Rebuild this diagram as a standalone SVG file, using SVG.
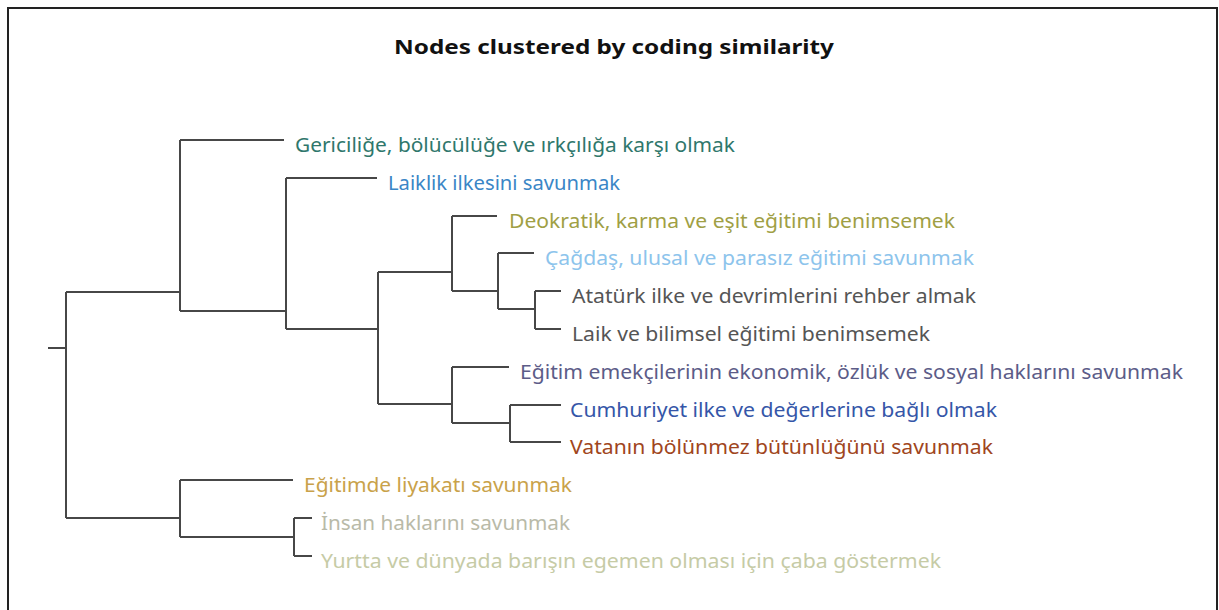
<svg xmlns="http://www.w3.org/2000/svg" width="1219" height="610" viewBox="0 0 1219 610">
<style>
.lbl{font-family:"Noto Sans","Open Sans","Liberation Sans",sans-serif;font-size:19px;}
.ttl{font-family:"Noto Sans","Open Sans","Liberation Sans",sans-serif;font-size:20px;font-weight:bold;fill:#111;}
.br{fill:none;stroke:#474747;stroke-width:2;}
</style>
<rect x="0" y="0" width="1219" height="610" fill="#fff"/>
<rect x="8" y="8" width="1209" height="620" fill="#fff" stroke="#222" stroke-width="2"/>
<text class="ttl" x="614" y="54" text-anchor="middle" textLength="440" lengthAdjust="spacingAndGlyphs">Nodes clustered by coding similarity</text>
<g id="connectors" class="br">
<path d="M48,348H66M66,292V518M66,292H180M66,518H180"/>
<path d="M180,140V311M180,140H284M180,311H286"/>
<path d="M286,178V329M286,178H377M286,329H378"/>
<path d="M378,272V404M378,272H452M378,404H452"/>
<path d="M452,216V291M452,216H497M452,291H498"/>
<path d="M498,253V309M498,253H534M498,309H535"/>
<path d="M535,291V329M535,291H561M535,329H561"/>
<path d="M452,367V423M452,367H509M452,423H510"/>
<path d="M510,405V442M510,405H561M510,442H561"/>
<path d="M180,480V537M180,480H293M180,537H294"/>
<path d="M294,518V556M294,518H312M294,556H312"/>
</g>
<g id="n1"><text class="lbl" x="295" y="152" fill="#2f776c" textLength="440" lengthAdjust="spacingAndGlyphs">Gericiliğe, bölücülüğe ve ırkçılığa karşı olmak</text></g>
<g id="n2"><text class="lbl" x="388" y="190" fill="#3a86c6" textLength="232" lengthAdjust="spacingAndGlyphs">Laiklik ilkesini savunmak</text></g>
<g id="n3"><text class="lbl" x="509" y="228" fill="#a09f45" textLength="446" lengthAdjust="spacingAndGlyphs">Deokratik, karma ve eşit eğitimi benimsemek</text></g>
<g id="n4"><text class="lbl" x="545" y="265" fill="#8dc4ec" textLength="429" lengthAdjust="spacingAndGlyphs">Çağdaş, ulusal ve parasız eğitimi savunmak</text></g>
<g id="n5"><text class="lbl" x="572" y="303" fill="#555555" textLength="404" lengthAdjust="spacingAndGlyphs">Atatürk ilke ve devrimlerini rehber almak</text></g>
<g id="n6"><text class="lbl" x="572" y="341" fill="#555555" textLength="358" lengthAdjust="spacingAndGlyphs">Laik ve bilimsel eğitimi benimsemek</text></g>
<g id="n7"><text class="lbl" x="520" y="379" fill="#5c5c88" textLength="663" lengthAdjust="spacingAndGlyphs">Eğitim emekçilerinin ekonomik, özlük ve sosyal haklarını savunmak</text></g>
<g id="n8"><text class="lbl" x="570" y="417" fill="#3556a8" textLength="427" lengthAdjust="spacingAndGlyphs">Cumhuriyet ilke ve değerlerine bağlı olmak</text></g>
<g id="n9"><text class="lbl" x="570" y="454" fill="#a04520" textLength="423" lengthAdjust="spacingAndGlyphs">Vatanın bölünmez bütünlüğünü savunmak</text></g>
<g id="n10"><text class="lbl" x="304" y="492" fill="#c9a24a" textLength="268" lengthAdjust="spacingAndGlyphs">Eğitimde liyakatı savunmak</text></g>
<g id="n11"><text class="lbl" x="321" y="530" fill="#b9baa8" textLength="249" lengthAdjust="spacingAndGlyphs">İnsan haklarını savunmak</text></g>
<g id="n12"><text class="lbl" x="321" y="568" fill="#c6cba6" textLength="620" lengthAdjust="spacingAndGlyphs">Yurtta ve dünyada barışın egemen olması için çaba göstermek</text></g>
</svg>
